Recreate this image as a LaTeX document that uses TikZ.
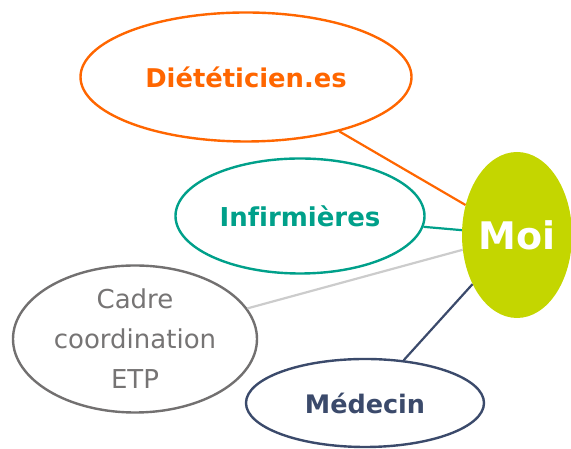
\documentclass[tikz,border=0pt]{standalone}
\usepackage{fontspec}
\setmainfont[Ligatures=NoCommon]{DejaVu Sans}
\usetikzlibrary{shapes.geometric}
\definecolor{cOrange}{HTML}{FF6600}
\definecolor{cTeal}{HTML}{00A08A}
\definecolor{cGrayLine}{HTML}{727070}
\definecolor{cGrayText}{HTML}{767474}
\definecolor{cLight}{HTML}{CCCCCC}
\definecolor{cNavy}{HTML}{3B4A6B}
\definecolor{cLime}{HTML}{C4D600}
\begin{document}
\begin{tikzpicture}[x=1pt,y=1pt,
  oval/.style={ellipse, draw, line width=2.4pt, fill=white, inner sep=0pt, align=center},
  link/.style={line width=2.2pt}]
\useasboundingbox (0,0) rectangle (571,449);
\node[oval, draw=cOrange, text=cOrange, minimum width=331pt, minimum height=129pt,
  font=\fontsize{25.8}{30}\selectfont\bfseries] (diet) at (246,372) {Diététicien.es};
\node[oval, draw=cTeal, text=cTeal, minimum width=249pt, minimum height=115pt,
  font=\fontsize{26}{30}\selectfont\bfseries] (inf) at (300,233) {Infirmières};
\node[oval, draw=cGrayLine, text=cGrayText, minimum width=244pt, minimum height=147pt,
  font=\fontsize{26}{40}\selectfont] (cadre) at (135,110) {Cadre\\coordination\\ETP};
\node[oval, draw=cNavy, text=cNavy, minimum width=238pt, minimum height=88pt,
  font=\fontsize{25.5}{30}\selectfont\bfseries] (med) at (365,46) {Médecin};
\node[ellipse, fill=cLime, text=white, inner sep=0pt, minimum width=110pt, minimum height=166pt,
  font=\fontsize{38}{40}\selectfont\bfseries] (moi) at (517,214) {Moi};
\draw[link, cOrange] (diet) -- (moi);
\draw[link, cTeal] (inf) -- (moi);
\draw[link, cLight] (cadre) -- (moi);
\draw[link, cNavy] (med) -- (moi);
\end{tikzpicture}
\end{document}
